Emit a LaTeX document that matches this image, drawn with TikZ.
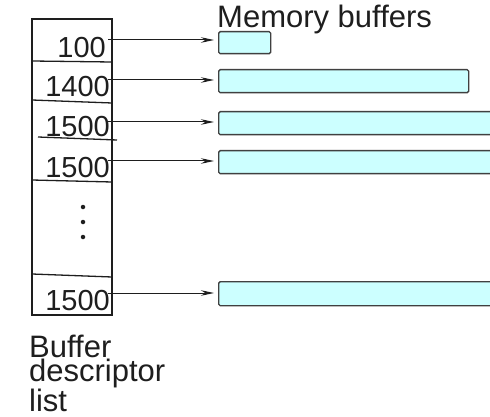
\documentclass[tikz,border=0pt]{standalone}
\usepackage{fontspec}
\setmainfont{Liberation Sans}
\usetikzlibrary{arrows.meta}
\definecolor{buf}{RGB}{204,255,255}
\definecolor{ink}{RGB}{30,30,30}
\tikzset{
  num/.style={anchor=base east, inner sep=0pt, font=\fontsize{29}{29}\selectfont, text=ink},
  bufrect/.style={draw=ink!85, fill=buf, line width=1.4pt, rounded corners=1.5pt, anchor=north west, inner sep=0pt, minimum height=23pt},
  ptr/.style={draw=ink, line width=1pt, shorten >=4pt, -{Stealth[length=13pt,width=5.5pt]}},
  cell/.style={draw=ink, line width=1.3pt},
  dotm/.style={circle, fill=ink, inner sep=0pt, minimum size=4.5pt}
}
\begin{document}
\begin{tikzpicture}[x=1pt,y=-1pt]
\useasboundingbox (0,0) rectangle (490,417);
% descriptor list
\draw[cell] (32,19) rectangle (112,315);
\draw[cell] (32,61) -- (112,62);
\draw[cell] (32,100) -- (112,103);
\draw[cell] (38,137) -- (117,140);
\draw[cell] (32,180) -- (112,182);
\draw[cell] (32,274) -- (112,277);
\node[num] (n1) at (106,58) {100};
\node[num] (n2) at (110,97) {1400};
\node[num] (n3) at (110,137) {1500};
\node[num] (n4) at (110,177) {1500};
\node[num] (n5) at (110,310) {1500};
\node[dotm] (d1) at (83,207) {};
\node[dotm] (d2) at (83,222) {};
\node[dotm] (d3) at (83,237) {};
% buffers
\node[bufrect, minimum width=52pt, minimum height=22pt] (r1) at (218,31) {};
\node[bufrect, minimum width=250pt] (r2) at (218,69) {};
\node[bufrect, minimum width=300pt] (r3) at (218,111) {};
\node[bufrect, minimum width=300pt] (r4) at (218,150) {};
\node[bufrect, minimum width=300pt, minimum height=24pt] (r5) at (218,281) {};
% pointers
\coordinate (t1) at (108,40);
\coordinate (t2) at (108,80);
\coordinate (t3) at (108,122);
\coordinate (t4) at (108,161);
\coordinate (t5) at (108,293);
\draw[ptr] (t1) -- (t1 -| r1.west);
\draw[ptr] (t2) -- (t2 -| r2.west);
\draw[ptr] (t3) -- (t3 -| r3.west);
\draw[ptr] (t4) -- (t4 -| r4.west);
\draw[ptr] (t5) -- (t5 -| r5.west);
% labels
\node[anchor=base west, inner sep=0pt, font=\fontsize{31}{31}\selectfont, text=ink] (mb) at (217,28) {Memory buffers};
\node[anchor=north west, inner sep=0pt, align=left, font=\fontsize{31}{22}\selectfont, text=ink] (bd) at (29,335) {Buffer\\descriptor\\list};
\end{tikzpicture}
\end{document}
